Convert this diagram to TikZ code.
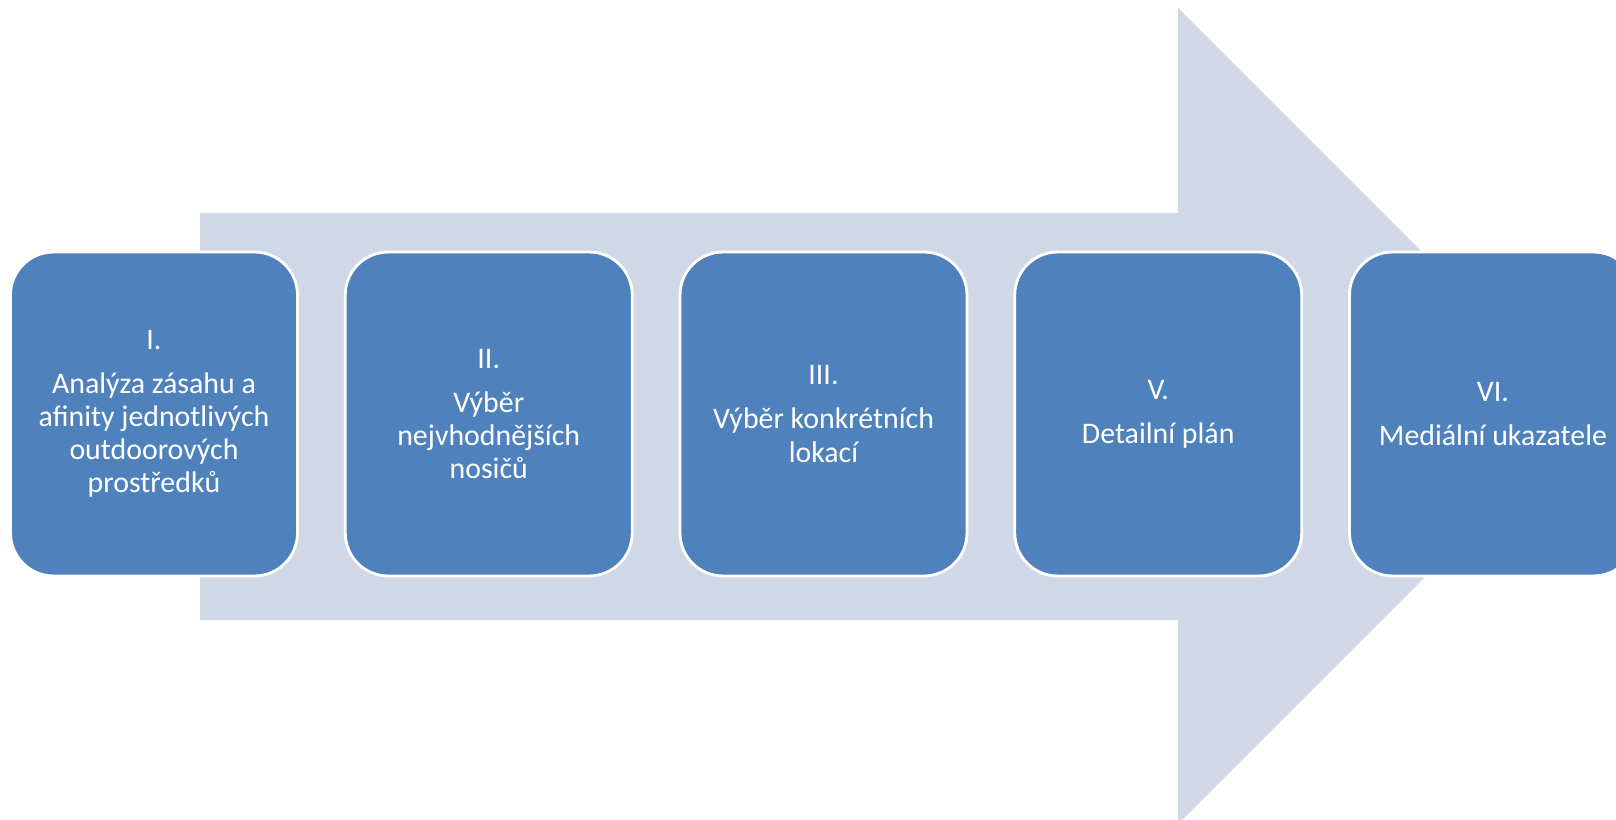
\documentclass[tikz,border=0pt]{standalone}
\usepackage{fontspec}
\setmainfont{Carlito}
\usetikzlibrary{positioning}

\definecolor{arrowfill}{RGB}{208,216,232}
\definecolor{stagefill}{RGB}{79,129,189}

\begin{document}
\begin{tikzpicture}[
  x=0.02cm, y=0.02cm,
  node distance=0.9cm,
  stage/.style={rectangle, rounded corners=0.86cm, fill=stagefill, draw=white, line width=1.6pt,
    text=white, align=center, minimum width=5.74cm, minimum height=6.48cm,
    font=\fontsize{17}{18.8}\selectfont}
]
\useasboundingbox (0,0) rectangle (1616,819);
\clip (0,0) rectangle (1616,819);

\fill[arrowfill] (200,199) -- (200,606) -- (1178,606) -- (1178,811)
  -- (1586,403) -- (1178,-5) -- (1178,199) -- cycle;

\node[stage] (s1) at (154,405) {I.\\[0.22cm]Analýza zásahu a\\afinity jednotlivých\\outdoorových\\prostředků};
\node[stage, right=of s1] (s2) {II.\\[0.22cm]Výběr\\nejvhodnějších\\nosičů};
\node[stage, right=of s2] (s3) {III.\\[0.22cm]Výběr konkrétních\\lokací};
\node[stage, right=of s3] (s5) {V.\\[0.22cm]Detailní plán};
\node[stage, right=of s5] (s6) {VI.\\[0.22cm]Mediální ukazatele};
\end{tikzpicture}
\end{document}
